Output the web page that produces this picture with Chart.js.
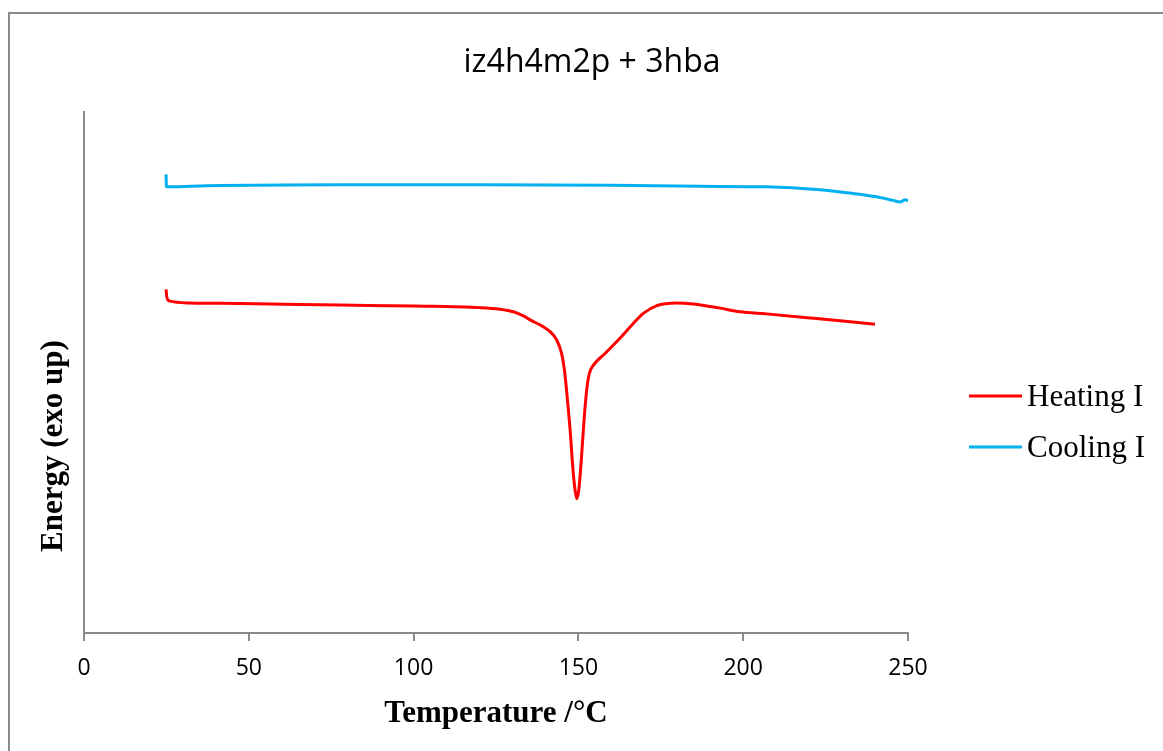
<!DOCTYPE html>
<html lang="en">
<head>
<meta charset="UTF-8">
<title>iz4h4m2p + 3hba</title>
<script src="https://cdn.jsdelivr.net/npm/chart.js"></script>
<style>
    body {
        margin: 0;
        background: #fff;
        overflow: hidden;
    }
    .frame {
        position: absolute;
        left: 8px;
        top: 12px;
        width: 1300px;
        height: 900px;
        border: 2px solid #8a8a8a;
    }
    .wrap {
        position: absolute;
        left: 0;
        top: 0;
        width: 1163px;
        height: 751px;
    }
</style>
</head>
<body>
<div class="frame"></div>
<div class="wrap"><canvas id="dsc"></canvas></div>

<script>
// DSC traces (temperature in °C, energy in arbitrary units)
const heatingTemp = [24.9, 25.1, 25.9, 32.2, 47.3, 77.7, 100, 120.1, 126.2, 130.3, 133.3, 135.8,
    138.9, 141.4, 143.4, 144.9, 145.9, 146.6, 147.5, 148.3, 149.0, 149.5, 150.1, 150.8, 151.7,
    152.5, 153.3, 154.5, 158.1, 162.6, 166.7, 169.7, 173.8, 179.8, 184.9, 193.0, 199.0, 207.1,
    222.3, 240.0];
const heatingEnergy = [66.0, 64.6, 63.8, 63.4, 63.3, 63.0, 62.8, 62.5, 62.2, 61.7, 60.9, 60.0,
    59.0, 57.9, 56.3, 53.7, 49.8, 45.3, 38.9, 31.8, 27.4, 25.8, 27.4, 32.5, 40.8,
    46.6, 49.8, 51.4, 53.7, 56.6, 59.5, 61.4, 62.9, 63.4, 63.2, 62.4, 61.7, 61.3,
    60.4, 59.3];

const coolingTemp = [24.9, 25.0, 26.1, 37.2, 77.7, 120, 160, 186.9, 207.1, 222.3, 232.4,
    240.5, 245.5, 247.6, 249.1, 250.0];
const coolingEnergy = [88.1, 85.7, 85.7, 85.9, 86.1, 86.1, 86.0, 85.8, 85.7, 85.2, 84.5,
    83.8, 83.1, 82.8, 83.2, 83.0];

const xTicks = [0, 50, 100, 150, 200, 250];
const seriesNames = ['Heating I', 'Cooling I'];

function toPoints(xs, ys) {
    return xs.map((x, i) => ({ x: x, y: ys[i] }));
}

// legend + rotated y title, placed like the original sheet
const sideText = {
    id: 'sideText',
    afterDraw(chart) {
        const ctx = chart.ctx;
        ctx.save();
        chart.data.datasets.forEach((ds, i) => {
            const y = 396 + i * 51;
            ctx.strokeStyle = ds.borderColor;
            ctx.lineWidth = 3;
            ctx.beginPath();
            ctx.moveTo(969, y);
            ctx.lineTo(1022, y);
            ctx.stroke();
            ctx.fillStyle = '#000';
            ctx.font = '31px "Liberation Serif", "Times New Roman", serif';
            ctx.textBaseline = 'alphabetic';
            ctx.fillText(ds.label, 1027, y + 10);
        });
        ctx.translate(62, 446);
        ctx.rotate(-Math.PI / 2);
        ctx.font = 'bold 31px "Liberation Serif", "Times New Roman", serif';
        ctx.textAlign = 'center';
        ctx.fillText('Energy (exo up)', 0, 0);
        ctx.restore();
    }
};

const chart = new Chart(document.getElementById('dsc'), {
    type: 'line',
    data: {
        datasets: [{
            label: seriesNames[0],
            data: toPoints(heatingTemp, heatingEnergy),
            borderColor: '#ff0000',
            borderWidth: 3,
            pointRadius: 0,
            cubicInterpolationMode: 'monotone'
        }, {
            label: seriesNames[1],
            data: toPoints(coolingTemp, coolingEnergy),
            borderColor: '#00b0f0',
            borderWidth: 3,
            pointRadius: 0,
            cubicInterpolationMode: 'monotone'
        }]
    },
    options: {
        responsive: true,
        maintainAspectRatio: false,
        animation: false,
        layout: { padding: { left: 21, right: 0, top: 0, bottom: 0 } },
        plugins: {
            legend: { display: false },
            tooltip: { enabled: false },
            title: {
                display: true,
                text: 'iz4h4m2p + 3hba',
                color: '#000',
                font: { family: '"Open Sans", sans-serif', size: 32, weight: 'normal', lineHeight: 1.2 },
                padding: { top: 44, bottom: 30 }
            }
        },
        scales: {
            x: {
                type: 'linear',
                min: 0,
                max: 250,
                afterBuildTicks(scale) {
                    scale.ticks = xTicks.map(v => ({ value: v }));
                },
                afterFit(scale) { scale.height = 118; },
                grid: { display: true, drawOnChartArea: false, drawTicks: true, tickLength: 8, color: '#8a8a8a', lineWidth: 2 },
                border: { display: true, color: '#8a8a8a', width: 2 },
                ticks: {
                    color: '#000',
                    padding: 14,
                    maxRotation: 0,
                    font: { family: '"Open Sans", sans-serif', size: 23, lineHeight: 1.2 }
                },
                title: {
                    display: true,
                    text: 'Temperature /°C',
                    color: '#000',
                    font: { family: '"Liberation Serif", "Times New Roman", serif', size: 31, weight: 'bold', lineHeight: 1.2 },
                    padding: { top: 4, bottom: 18 }
                }
            },
            y: {
                min: 0,
                max: 100,
                afterFit(scale) { scale.width = 63; },
                grid: { display: false },
                border: { display: true, color: '#8a8a8a', width: 2 },
                ticks: { display: false }
            },
            // empty right-hand box that keeps room for the legend
            side: {
                type: 'linear',
                position: 'right',
                afterFit(scale) { scale.width = 255; },
                grid: { display: false },
                border: { display: false },
                ticks: { display: false }
            }
        }
    },
    plugins: [sideText]
});
</script>
</body>
</html>
